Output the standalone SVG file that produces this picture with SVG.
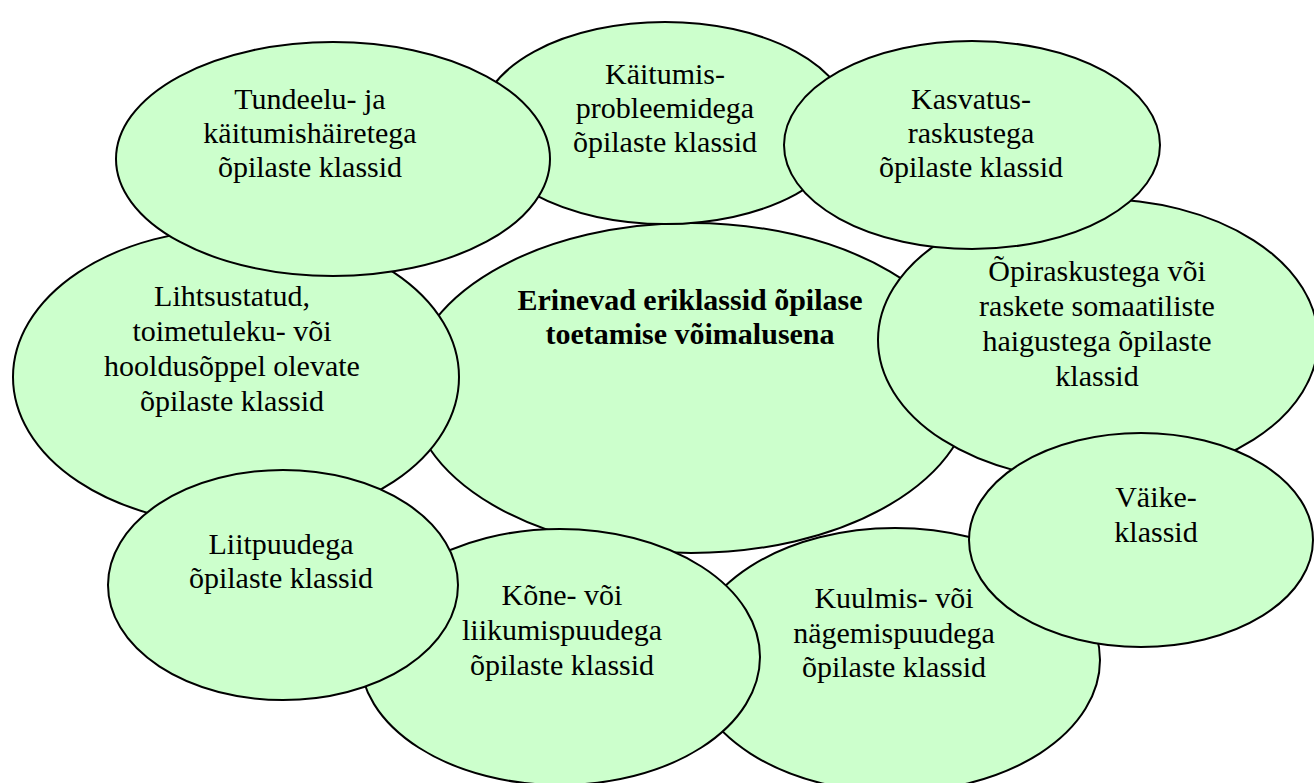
<svg xmlns="http://www.w3.org/2000/svg" width="1314" height="783" viewBox="0 0 1314 783" font-family="'Liberation Serif', 'Times New Roman', serif">
<style>
.e{fill:#CCFFCC;stroke:#000;stroke-width:2}
text{font-family:'Liberation Serif','Times New Roman',serif;font-size:30px;fill:#000;text-anchor:middle}
.b{font-weight:bold}
</style>
<rect width="1314" height="783" fill="#fff"/>
<g id="center"><ellipse class="e" cx="691" cy="388" rx="281" ry="165"/>
<text class="b" x="690" y="310">Erinevad eriklassid õpilase</text>
<text class="b" x="690" y="344">toetamise võimalusena</text></g>
<g id="kaitumis"><ellipse class="e" cx="665" cy="123" rx="185" ry="101"/>
<text x="665" y="84">Käitumis-</text><text x="665" y="118">probleemidega</text><text x="665" y="152">õpilaste klassid</text></g>
<g id="lihtsustatud"><ellipse class="e" cx="236" cy="377" rx="223" ry="148"/>
<text x="232" y="306">Lihtsustatud,</text><text x="232" y="341">toimetuleku- või</text><text x="232" y="376">hooldusõppel olevate</text><text x="232" y="411">õpilaste klassid</text></g>
<g id="tundeelu"><ellipse class="e" cx="333" cy="159" rx="217" ry="117"/>
<text x="310" y="109">Tundeelu- ja</text><text x="310" y="143">käitumishäiretega</text><text x="310" y="177">õpilaste klassid</text></g>
<g id="opiraskustega"><ellipse class="e" cx="1098" cy="340" rx="220" ry="141"/>
<text x="1097" y="281">Õpiraskustega või</text><text x="1097" y="316">raskete somaatiliste</text><text x="1097" y="351">haigustega õpilaste</text><text x="1097" y="386">klassid</text></g>
<g id="kasvatus"><ellipse class="e" cx="972" cy="145" rx="188" ry="104"/>
<text x="971" y="109">Kasvatus-</text><text x="971" y="143">raskustega</text><text x="971" y="177">õpilaste klassid</text></g>
<g id="kuulmis"><ellipse class="e" cx="895" cy="660" rx="205" ry="132"/>
<text x="894" y="608">Kuulmis- või</text><text x="894" y="643">nägemispuudega</text><text x="894" y="677">õpilaste klassid</text></g>
<g id="kone"><ellipse class="e" cx="560" cy="657" rx="200" ry="128"/>
<text x="562" y="605">Kõne- või</text><text x="562" y="640">liikumispuudega</text><text x="562" y="675">õpilaste klassid</text></g>
<g id="liitpuudega"><ellipse class="e" cx="283" cy="585" rx="175" ry="115"/>
<text x="281" y="554">Liitpuudega</text><text x="281" y="588">õpilaste klassid</text></g>
<g id="vaike"><ellipse class="e" cx="1141" cy="540" rx="172" ry="107"/>
<text x="1156" y="507">Väike-</text><text x="1156" y="542">klassid</text></g>
<g id="connectors"></g>
</svg>
